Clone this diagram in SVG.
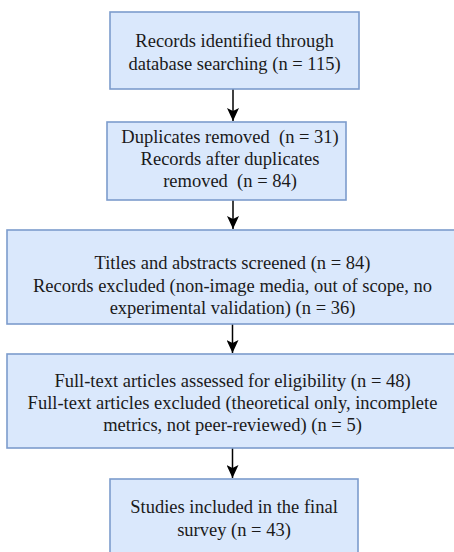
<svg xmlns="http://www.w3.org/2000/svg" width="454" height="552" viewBox="0 0 454 552">
<style>
.box{fill:#dae8fc;stroke:#7c9ccc;stroke-width:1.6}
.t{font-family:"Liberation Serif","Times New Roman",serif;font-size:18.5px;fill:#1a1a1a;text-anchor:middle;white-space:pre}
.edge{stroke:#000;stroke-width:1.5;fill:none}
</style>
<defs>
<marker id="ah" markerWidth="14" markerHeight="12" refX="13" refY="6" orient="auto" markerUnits="userSpaceOnUse" viewBox="0 0 14 12">
<path d="M0,0 L3,6 L0,12 L13,6 Z" fill="#000"/>
</marker>
</defs>
<rect width="454" height="552" fill="#fff"/>
<g id="connectors">
<line class="edge" x1="233" y1="89" x2="233" y2="121" marker-end="url(#ah)"/>
<line class="edge" x1="233" y1="200" x2="233" y2="229" marker-end="url(#ah)"/>
<line class="edge" x1="232.5" y1="324" x2="232.5" y2="353" marker-end="url(#ah)"/>
<line class="edge" x1="232.5" y1="448" x2="232.5" y2="478" marker-end="url(#ah)"/>
</g>
<g id="n1">
<rect class="box" x="110" y="12" width="249" height="77"/>
<text class="t" x="234.5" y="47">Records identified through</text>
<text class="t" x="234.5" y="70">database searching (n = 115)</text>
</g>
<g id="n2">
<rect class="box" x="107" y="122" width="239" height="78"/>
<text class="t" x="230" y="143">Duplicates removed  (n = 31)</text>
<text class="t" x="230" y="165">Records after duplicates</text>
<text class="t" x="230" y="187">removed  (n = 84)</text>
</g>
<g id="n3">
<rect class="box" x="7" y="230" width="451" height="94"/>
<text class="t" x="232.5" y="269">Titles and abstracts screened (n = 84)</text>
<text class="t" x="232.5" y="292">Records excluded (non-image media, out of scope, no</text>
<text class="t" x="232.5" y="314">experimental validation) (n = 36)</text>
</g>
<g id="n4">
<rect class="box" x="7" y="354" width="451" height="94"/>
<text class="t" x="232.5" y="387">Full-text articles assessed for eligibility (n = 48)</text>
<text class="t" x="232.5" y="409">Full-text articles excluded (theoretical only, incomplete</text>
<text class="t" x="232.5" y="431">metrics, not peer-reviewed) (n = 5)</text>
</g>
<g id="n5">
<rect class="box" x="110" y="479" width="248" height="78"/>
<text class="t" x="234" y="513">Studies included in the final</text>
<text class="t" x="234" y="536">survey (n = 43)</text>
</g>
</svg>
